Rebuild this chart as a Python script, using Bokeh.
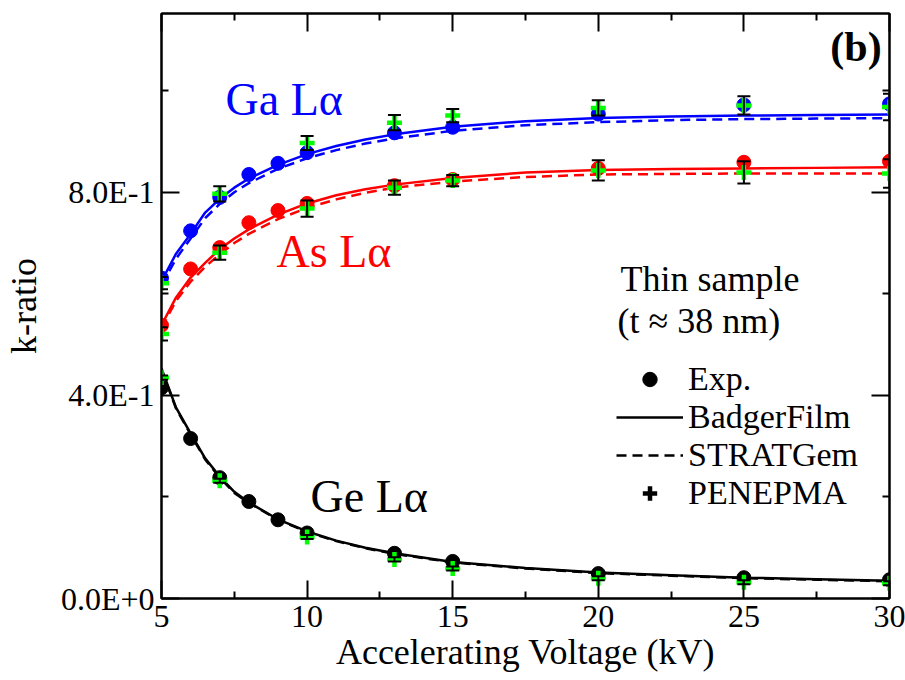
from bokeh.plotting import figure
from bokeh.models import (LinearAxis, FixedTicker, Whisker, ColumnDataSource, TeeHead,
                          Label, Legend, LegendItem, Range1d)
from bokeh.embed import file_html
from bokeh.resources import INLINE

# ---- measured k-ratios (thin sample, t ~ 38 nm) ----
exp_kv = [5, 6, 7, 8, 9, 10, 13, 15, 20, 25, 30]
ga_exp = [0.631, 0.724, 0.790, 0.835, 0.857, 0.878, 0.917, 0.928, 0.954, 0.972, 0.974]
as_exp = [0.538, 0.649, 0.691, 0.740, 0.764, 0.778, 0.813, 0.825, 0.847, 0.859, 0.861]
ge_exp = [0.415, 0.315, 0.238, 0.191, 0.155, 0.129, 0.089, 0.073, 0.049, 0.041, 0.037]

# ---- PENEPMA simulations with uncertainties ----
pen_kv = [5, 7, 10, 13, 15, 20, 25, 30]
ga_pen = [0.621, 0.797, 0.897, 0.937, 0.951, 0.966, 0.971, 0.968]
ga_pen_err = [0.012, 0.015, 0.014, 0.015, 0.013, 0.015, 0.018, 0.026]
as_pen = [0.521, 0.681, 0.768, 0.809, 0.823, 0.843, 0.839, 0.837]
as_pen_err = [0.013, 0.014, 0.016, 0.014, 0.011, 0.020, 0.022, 0.028]
ge_pen = [0.435, 0.232, 0.121, 0.077, 0.059, 0.040, 0.032, 0.030]
ge_pen_err = [0.004, 0.004, 0.004, 0.004, 0.004, 0.004, 0.004, 0.004]

# ---- BadgerFilm (solid) and STRATGem (dashed) model curves ----
model_kv = [5, 5.5, 6, 6.5, 7, 7.5, 8, 9, 10, 11, 12, 13, 15, 17.5, 20, 22.5, 25, 27.5, 30]
ga_badger = [0.625, 0.679, 0.718, 0.760, 0.787, 0.809, 0.827, 0.854, 0.875, 0.891, 0.904,
             0.914, 0.929, 0.940, 0.946, 0.949, 0.951, 0.952, 0.953]
ga_strat = [0.617, 0.669, 0.709, 0.749, 0.777, 0.800, 0.818, 0.846, 0.867, 0.883, 0.896,
            0.906, 0.921, 0.932, 0.938, 0.942, 0.944, 0.945, 0.946]
as_badger = [0.538, 0.593, 0.632, 0.661, 0.688, 0.709, 0.727, 0.756, 0.778, 0.794, 0.806,
             0.815, 0.828, 0.839, 0.844, 0.846, 0.847, 0.848, 0.849]
as_strat = [0.533, 0.586, 0.624, 0.653, 0.678, 0.700, 0.718, 0.747, 0.769, 0.786, 0.799,
            0.809, 0.821, 0.830, 0.835, 0.836, 0.837, 0.837, 0.837]
ge_badger = [0.453, 0.376, 0.325, 0.276, 0.240, 0.210, 0.189, 0.156, 0.132, 0.114, 0.100,
             0.089, 0.072, 0.060, 0.051, 0.046, 0.041, 0.038, 0.035]
ge_strat = [0.450, 0.374, 0.323, 0.274, 0.238, 0.208, 0.188, 0.155, 0.131, 0.113, 0.099,
            0.088, 0.071, 0.059, 0.050, 0.045, 0.040, 0.037, 0.034]

# ---- axes ----
x_ticks = [5, 10, 15, 20, 25, 30]
x_minor = [7.5, 12.5, 17.5, 22.5, 27.5]
y_ticks = [0.0, 0.4, 0.8]
y_minor = [0.2, 0.6, 1.0]
y_tick_labels = ["0.0E+0", "4.0E-1", "8.0E-1"]

FONT = "Liberation Serif"
GREEN = "#00ff00"
DASH = "10 6"

p = figure(frame_width=728, frame_height=585,
           min_border_left=158, min_border_right=19, min_border_top=13, min_border_bottom=82,
           x_range=Range1d(5, 30), y_range=Range1d(0, 1.152),
           x_axis_type=None, y_axis_type=None,
           output_backend="svg", toolbar_location=None)
p.outline_line_color = "black"
p.outline_line_width = 2
p.background_fill_color = "white"
p.border_fill_color = "white"


def style_axis(ax, labels):
    ax.axis_line_width = 2
    ax.major_tick_line_width = 2
    ax.minor_tick_line_width = 2
    ax.major_tick_in = 18
    ax.major_tick_out = 0
    ax.minor_tick_in = 7
    ax.minor_tick_out = 0
    ax.major_label_text_font = FONT
    ax.major_label_text_color = "black"
    ax.axis_label_text_font = FONT
    ax.axis_label_text_font_style = "normal"
    ax.axis_label_text_font_size = "36px"
    ax.axis_label_text_color = "black"
    if labels:
        ax.major_label_text_font_size = "32px"
        ax.major_label_standoff = 7
    else:
        ax.major_label_text_font_size = "0px"
        ax.major_label_standoff = 0


xb = LinearAxis(ticker=FixedTicker(ticks=x_ticks, minor_ticks=x_minor),
                axis_label="Accelerating Voltage (kV)")
style_axis(xb, True)
xb.axis_label_standoff = 2
p.add_layout(xb, "below")

# mirrored axes on top and right: ticks only
xt = LinearAxis(ticker=FixedTicker(ticks=x_ticks, minor_ticks=x_minor),
                major_label_overrides={t: "" for t in x_ticks})
style_axis(xt, False)
p.add_layout(xt, "above")

yl = LinearAxis(ticker=FixedTicker(ticks=y_ticks, minor_ticks=y_minor), axis_label="k-ratio",
                major_label_overrides=dict(zip(y_ticks, y_tick_labels)))
style_axis(yl, True)
yl.axis_label_standoff = 14
p.add_layout(yl, "left")

yr = LinearAxis(ticker=FixedTicker(ticks=y_ticks, minor_ticks=y_minor),
                major_label_overrides={t: "" for t in y_ticks})
style_axis(yr, False)
p.add_layout(yr, "right")

# ---- model curves ----
for vals, col in ((ga_badger, "blue"), (as_badger, "red"), (ge_badger, "black")):
    p.line(model_kv, vals, line_color=col, line_width=2.5)
for vals, col in ((ga_strat, "blue"), (as_strat, "red"), (ge_strat, "black")):
    p.line(model_kv, vals, line_color=col, line_width=2.5, line_dash=DASH)

# ---- experimental points ----
for vals, col in ((ga_exp, "blue"), (as_exp, "red"), (ge_exp, "black")):
    p.scatter(exp_kv, vals, marker="circle", size=14, fill_color=col, line_color=col)

# ---- PENEPMA error bars and points ----
for vals, errs in ((ga_pen, ga_pen_err), (as_pen, as_pen_err), (ge_pen, ge_pen_err)):
    src = ColumnDataSource(dict(x=pen_kv,
                                lower=[v - e for v, e in zip(vals, errs)],
                                upper=[v + e for v, e in zip(vals, errs)]))
    w = Whisker(base="x", lower="lower", upper="upper", source=src, dimension="height",
                line_color="black", line_width=2, level="glyph",
                upper_head=TeeHead(size=13, line_color="black", line_width=2),
                lower_head=TeeHead(size=13, line_color="black", line_width=2))
    p.add_layout(w)
for vals in (ga_pen, as_pen, ge_pen):
    p.scatter(pen_kv, vals, marker="cross", size=15, line_color=GREEN, line_width=4.5)

# ---- series labels ----
for txt, x, y, col in (("Ga Lα", 7.2, 0.982, "blue"),
                       ("As Lα", 8.95, 0.684, "red"),
                       ("Ge Lα", 10.12, 0.200, "black")):
    p.add_layout(Label(x=x, y=y, text=txt, text_font=FONT, text_font_size="46px",
                       text_color=col, text_baseline="alphabetic"))

p.add_layout(Label(x=29.73, y=1.086, text="(b)", text_font=FONT, text_font_size="42px",
                   text_font_style="bold", text_align="right", text_baseline="alphabetic",
                   text_color="black"))
p.add_layout(Label(x=20.76, y=0.630, text="Thin sample", text_font=FONT,
                   text_font_size="36px", text_baseline="alphabetic", text_color="black"))
p.add_layout(Label(x=20.66, y=0.546, text="(t ≈ 38 nm)", text_font=FONT,
                   text_font_size="36px", text_baseline="alphabetic", text_color="black"))

# ---- legend keys (one undefined point each, so only the key is drawn) ----
nan = float("nan")
k_exp = p.scatter([nan], [nan], marker="circle", size=14, fill_color="black",
                  line_color="black")
k_bf = p.line([nan], [nan], line_color="black", line_width=2.5)
k_sg = p.line([nan], [nan], line_color="black", line_width=2.5, line_dash=DASH)
k_pen = p.scatter([nan], [nan], marker="cross", size=14, line_color="black", line_width=4.5)

legend = Legend(items=[LegendItem(label="Exp.", renderers=[k_exp]),
                       LegendItem(label="BadgerFilm", renderers=[k_bf]),
                       LegendItem(label="STRATGem", renderers=[k_sg]),
                       LegendItem(label="PENEPMA", renderers=[k_pen])],
                location=(455, 86), label_text_font=FONT, label_text_font_size="34px",
                label_text_color="black",
                glyph_width=67, glyph_height=36, label_height=36, label_standoff=5,
                spacing=0, padding=0, margin=0, border_line_color=None,
                background_fill_alpha=0)
p.add_layout(legend)

open("out.html", "w").write(file_html(p, INLINE))
